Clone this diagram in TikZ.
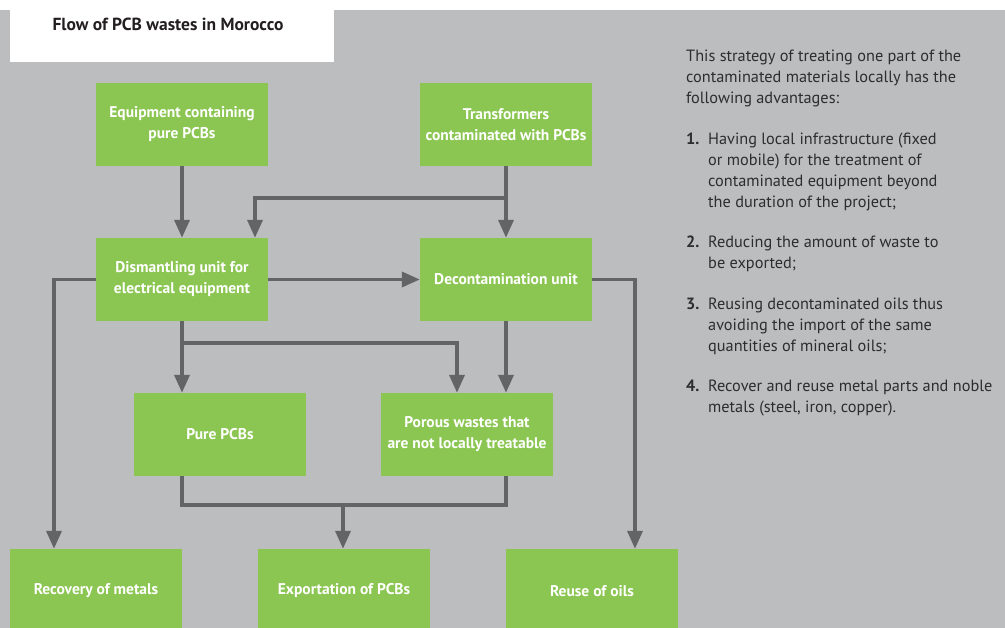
\documentclass[tikz,border=0pt]{standalone}
\usepackage{fontspec}
\setmainfont{PT Sans}
\usetikzlibrary{arrows.meta,calc}
\definecolor{bggray}{HTML}{BCBDBF}
\definecolor{boxgreen}{HTML}{8BC652}
\definecolor{linegray}{HTML}{636466}
\definecolor{txtdark}{HTML}{2E2D2E}
\definecolor{titledark}{HTML}{231F20}
\tikzset{
  flowbox/.style={fill=boxgreen, draw=none, minimum width=172pt, minimum height=83pt,
    inner sep=0pt, text=white, font=\fontsize{15.5}{21}\selectfont\bfseries, align=center},
  arr/.style={draw=linegray, line width=3.6pt, -{Triangle[length=18pt,width=15pt]}},
  plainline/.style={draw=linegray, line width=3.6pt},
  sidetext/.style={anchor=base west, inner sep=0pt, text=txtdark, font=\fontsize{16.3}{20}\selectfont},
  sidenum/.style={anchor=base west, inner sep=0pt, text=txtdark, font=\fontsize{16.3}{20}\selectfont\bfseries}
}
\begin{document}
\begin{tikzpicture}[x=1pt,y=-1pt]
\useasboundingbox (0,0) rectangle (1005,628);
\fill[white] (0,0) rectangle (1005,628);
\fill[bggray] (0,10) rectangle (1005,628);
\fill[white] (10,10) rectangle (334,62);
\node[inner sep=0pt, text=titledark, font=\fontsize{17.5}{20}\selectfont\bfseries, anchor=base] (title) at (168,31) {Flow of PCB wastes in Morocco};

% boxes
\node[flowbox] (eq) at (182,124.5) {Equipment containing\\pure PCBs};
\node[flowbox] (tr) at (506,124.5) {Transformers\\contaminated with PCBs};
\node[flowbox] (dis) at (182,279.5) {Dismantling unit for\\electrical equipment};
\node[flowbox] (dec) at (506,279.5) {Decontamination unit};
\node[flowbox] (pure) at (220,434.5) {Pure PCBs};
\node[flowbox] (por) at (467,434.5) {Porous wastes that\\are not locally treatable};
\node[flowbox, minimum height=84pt] (rec) at (96,591) {Recovery of metals};
\node[flowbox, minimum height=84pt] (exp) at (344,591) {Exportation of PCBs};
\node[flowbox, minimum height=84pt] (reu) at (592,591) {Reuse of oils};

% helper coordinates
\coordinate (j1) at (255,198);
\coordinate (j2) at (183,343);
\coordinate (j3) at (343,505);
\coordinate (cL) at (54,0);
\coordinate (cR) at (635,0);
\coordinate (cP) at (457,0);

% connectors
\draw[arr] (eq) -- (dis);
\draw[arr] (tr) -- (dec);
\draw[arr] (tr.south |- j1) -- (j1) -- (j1 |- dis.north);
\draw[arr] (dis) -- (dec);
\draw[arr] (dis.west) -| (rec.north -| cL);
\draw[arr] (dec.east) -| (reu.north -| cR);
\draw[arr] (dis) -- (pure.north -| dis);
\draw[arr] (dis.south |- j2) -| (por.north -| cP);
\draw[arr] (dec) -- (por.north -| dec);
\draw[plainline] (pure.south -| dis) -- (dis |- j3) -- (dec |- j3) -- (por.south -| dec);
\draw[arr] (j3) -- (exp.north -| j3);

% side text
\node[sidetext] (p1) at (686,62) {This strategy of treating one part of the};
\node[sidetext] (p2) at (686,82.7) {contaminated materials locally has the};
\node[sidetext] (p3) at (686,103.4) {following advantages:};

\node[sidenum] (n1) at (686,145) {1.};
\node[sidetext] (a1) at (708,145) {Having local infrastructure (fixed};
\node[sidetext] (a2) at (708,165.7) {or mobile) for the treatment of};
\node[sidetext] (a3) at (708,186.4) {contaminated equipment beyond};
\node[sidetext] (a4) at (708,207.1) {the duration of the project;};

\node[sidenum] (n2) at (686,248) {2.};
\node[sidetext] (b1) at (708,248) {Reducing the amount of waste to};
\node[sidetext] (b2) at (708,268.7) {be exported;};

\node[sidenum] (n3) at (686,310) {3.};
\node[sidetext] (c1) at (708,310) {Reusing decontaminated oils thus};
\node[sidetext] (c2) at (708,330.7) {avoiding the import of the same};
\node[sidetext] (c3) at (708,351.4) {quantities of mineral oils;};

\node[sidenum] (n4) at (686,392) {4.};
\node[sidetext] (d1) at (708,392) {Recover and reuse metal parts and noble};
\node[sidetext] (d2) at (708,412.7) {metals (steel, iron, copper).};
\end{tikzpicture}
\end{document}
